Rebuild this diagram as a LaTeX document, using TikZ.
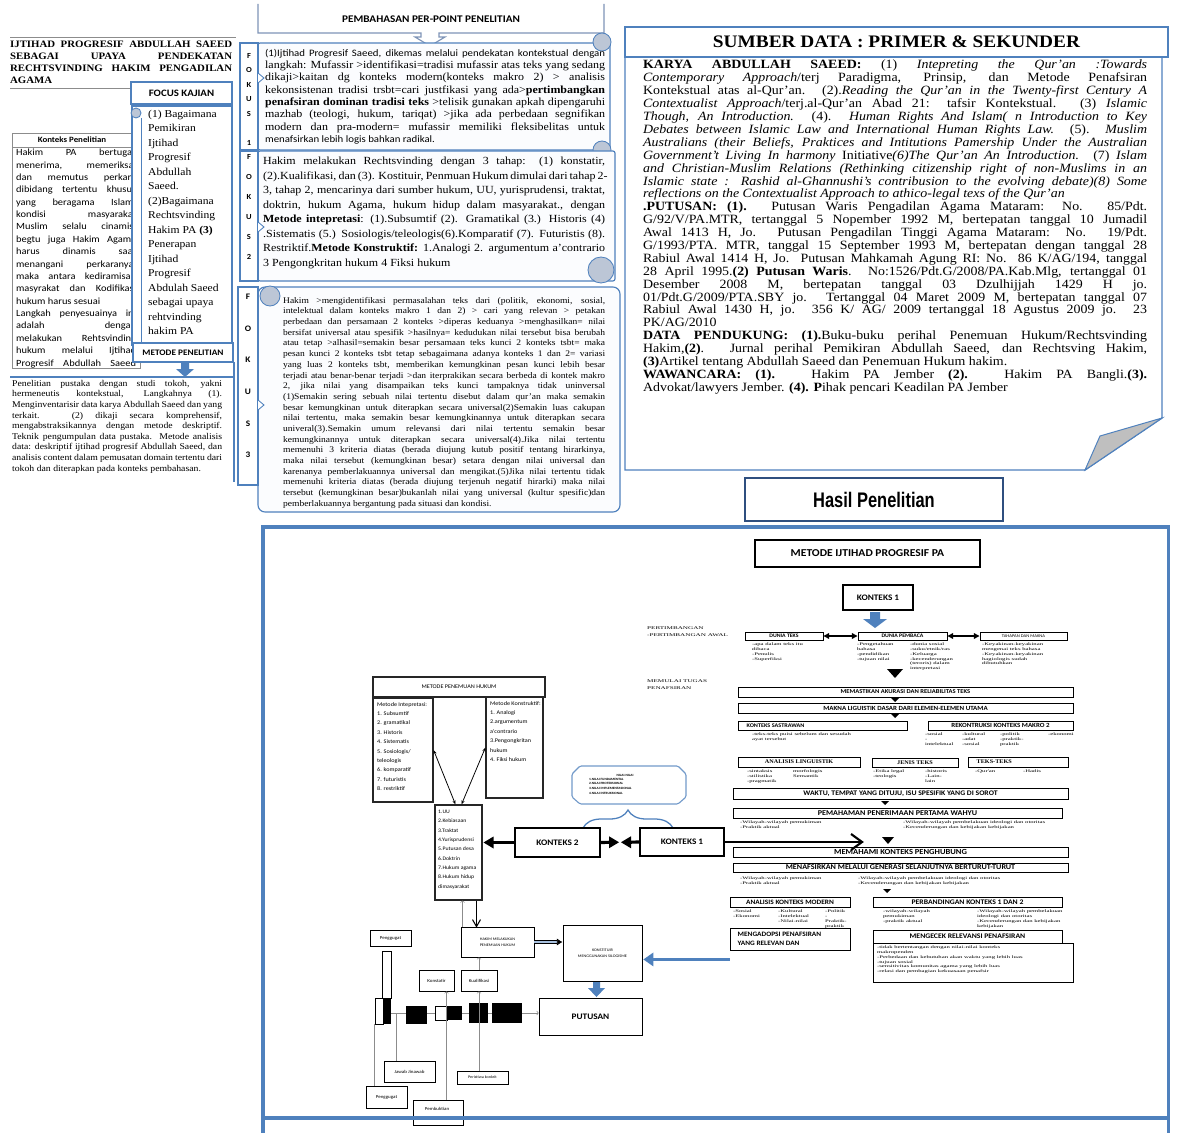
\documentclass[tikz,border=0pt]{standalone}
\usepackage{fontspec}
\setmainfont{Liberation Serif}[FakeStretch=1.1]
\newfontfamily\calib{Carlito}[FakeStretch=1.1]
\newfontfamily\narrowf{Liberation Sans}[FakeStretch=0.78]
\newfontfamily\widef{Liberation Serif}[FakeStretch=1.7]
\usetikzlibrary{arrows.meta,positioning,calc,decorations.pathreplacing}
\definecolor{sblue}{HTML}{4F81BD}
\definecolor{sdark}{HTML}{2F4F7F}
\definecolor{scurl}{HTML}{BCC6D6}
\definecolor{sfold}{HTML}{BFBFBF}
\definecolor{spaper}{HTML}{FBFCFE}
\definecolor{sgray}{HTML}{8C8C8C}
\definecolor{scall}{HTML}{7F95B8}
\newcommand\fs[2]{\fontsize{#1}{#2}\selectfont}
\newcommand\fl[1]{\hbox to\hsize{#1}}
\newcommand\el[1]{\hbox to\hsize{#1\hfil}}
% kotak dari dua titik piksel
\newcommand\bxat[6]{\node[#1,minimum width={(#4-#2)*0.05cm},minimum height={(#5-#3)*0.05cm}] (#6) at ({(#2+#4)/2},{(#3+#5)/2})}
\hbadness=10000 \hfuzz=100pt
\tikzset{
  gline/.style={draw=sgray,line width=0.8pt},
  blbox/.style={draw=sblue,line width=1.6pt,fill=white,inner sep=0pt},
  scroll/.style={draw=sblue,line width=1.6pt,fill=spaper,rounded corners=3pt},
  curl/.style={draw=sblue,line width=1.2pt,fill=scurl},
  txt/.style={anchor=north west,inner sep=0pt},
  lett/.style={anchor=north,inner sep=0pt,align=center},
  bx/.style={draw=black,line width=1.3pt,inner sep=0pt,fill=white,font=\calib\bfseries\fs{9}{10}},
  sbx/.style={draw=black,line width=1.3pt,inner sep=0pt,fill=white,font=\bfseries\fs{8}{9}},
  hbx/.style={draw=black,line width=3pt,inner sep=0pt,fill=white},
  bx2/.style={draw=black!85,line width=1.6pt,inner sep=0pt,fill=white},
  tbx/.style={draw=black,line width=1.2pt,inner sep=0pt,fill=white,font=\calib\fs{6.5}{7}},
  tn/.style={anchor=north west,inner sep=0pt,align=left,font=\widef\fs{5.6}{6.7}},
  lab/.style={anchor=north west,inner sep=0pt,align=left,font=\widef\fs{6}{10}},
  tarr/.style={-{Triangle[length=8pt,width=8pt]},line width=1.8pt},
  shaft/.style={draw=black,line width=4.5pt},
  garr/.style={-{To[length=3pt]},draw=sgray,line width=0.7pt},
  barr/.style={{Stealth[length=6pt]}-{Stealth[length=6pt]},line width=1.1pt},
  bsq/.style={fill=black,inner sep=0pt},
  wsq/.style={draw=black,fill=white,line width=1pt,inner sep=0pt},
}
\begin{document}
\begin{tikzpicture}[x=0.05cm,y=-0.05cm]
\useasboundingbox (0,0) rectangle (1178,1133);
\fill[white] (0,0) rectangle (1178,1133);

% judul
\draw[gline] (10,37) -- (236,37);
\node[txt,font=\bfseries\fs{14}{17.1}] (judul) at (10,41) {\vbox{\hsize=11.1cm
\fl{IJTIHAD PROGRESIF ABDULLAH SAEED}
\fl{SEBAGAI UPAYA PENDEKATAN}
\fl{RECHTSVINDING HAKIM PENGADILAN}
\el{AGAMA}}};
\draw[gline] (10,88) -- (132,88);

% konteks penelitian
\draw[gline,fill=white] (12,133) rectangle (140,368);
\node[font=\calib\bfseries\fs{11.5}{13}] (kph) at (72,140) {Konteks Penelitian};
\draw[gline] (12,147) -- (140,147);
\node[txt,font=\calib\fs{13.5}{17.6}] (kp) at (16,149) {\vbox{\hsize=6cm
\fl{Hakim PA bertugas}
\fl{menerima, memeriksa,}
\fl{dan memutus perkara}
\fl{dibidang tertentu khusus}
\fl{yang beragama Islam,}
\fl{kondisi masyarakat}
\fl{Muslim selalu cinamis,}
\fl{begtu juga Hakim Agama}
\fl{harus dinamis saat}
\fl{menangani perkaranya,}
\fl{maka antara kediramisan}
\fl{masyrakat dan Kodifikasi}
\el{hukum harus sesuai}
\fl{Langkah penyesuainya ini}
\fl{adalah dengan}
\fl{melakukan Rehtsvinding}
\fl{hukum melalui Ijtihad}
\fl{Progresif Abdullah Saeed}}};

% focus kajian
\draw[blbox] (132,106) rectangle (232,345);
\draw[sblue,line width=1.2pt] (141,118) -- (141,345);
\draw[curl] (136,113) circle[radius=0.25cm];
\bxat{blbox,font=\calib\bfseries\fs{14}{16}}{131}{82}{232}{104}{fk} {FOCUS KAJIAN};
\node[txt,align=left,font=\fs{15}{20.6}] (fkl) at (148,110) {(1) Bagaimana\\Pemikiran\\Ijtihad\\Progresif\\Abdullah\\Saeed.\\(2)Bagaimana\\Rechtsvinding\\Hakim PA \textbf{(3)}\\Penerapan\\Ijtihad\\Progresif\\Abdulah Saeed\\sebagai upaya\\rehtvinding\\hakim PA};

% metode penelitian
\bxat{blbox,font=\calib\bfseries\fs{12}{13}}{133}{343}{233}{362}{mp} {METODE PENELITIAN};
\fill[sblue] (181,363) -- (189,363) -- (189,369) -- (194,369) -- (185,377) -- (176,369) -- (181,369) -- cycle;
\draw[sblue,line width=2.2pt] (10,377) -- (234,377);
\draw[sblue,line width=1.6pt] (234,362) -- (234,482);
\node[txt,font=\fs{12.6}{15.1}] (pp) at (12,380) {\vbox{\hsize=10.5cm
\fl{Penelitian pustaka dengan studi tokoh, yakni}
\fl{hermeneutis kontekstual, Langkahnya (1).}
\fl{Menginventarisir data karya Abdullah Saeed dan yang}
\fl{terkait. (2) dikaji secara komprehensif,}
\fl{mengabstraksikannya dengan metode deskriptif.}
\fl{Teknik pengumpulan data pustaka. Metode analisis}
\fl{data: deskriptif ijtihad progresif Abdullah Saeed, dan}
\fl{analisis content dalam pemusatan domain tertentu dari}
\el{tokoh dan diterapkan pada konteks pembahasan.}}};

% pembahasan
\draw[draw=scall,line width=1.6pt] (258,4) -- (258,33) -- (421,33) -- (421,37) -- (415,37) -- (430,46) -- (445,37) -- (439,37) -- (439,33) -- (604,33) -- (604,4);
\node[font=\calib\bfseries\fs{14.5}{16}] (pbh) at (431,19) {PEMBAHASAN PER-POINT PENELITIAN};

% fokus 1
\draw[scroll] (258,43) rectangle (610,150);
\draw[curl] (602,42) circle[radius=0.45cm];
\draw[curl] (602,150) circle[radius=0.45cm];
\draw[blbox] (240,43) rectangle (258,150);
\draw[blbox,line width=1.2pt] (258,73) -- (264,78) -- (258,83);
\node[lett,font=\calib\bfseries\fs{11}{20.6}] (f1l) at (249,53) {F\\O\\K\\U\\S\\[20.6pt]1};
\node[txt,font=\fs{15.5}{17.5}] (f1) at (265,49) {\vbox{\hsize=17cm
\fl{{\calib\fs{14}{17.5}(1)Ijtihad Progresif Saeed, dikemas  melalui pendekatan kontekstual dengan}}
\fl{langkah: Mufassir >identifikasi=tradisi mufassir atas teks yang sedang}
\fl{dikaji>kaitan dg konteks modern(konteks makro 2) > analisis}
\fl{kekonsistenan tradisi trsbt=cari justfikasi yang ada>\textbf{pertimbangkan}}
\fl{\textbf{penafsiran dominan tradisi teks} >telisik gunakan apkah dipengaruhi}
\fl{mazhab (teologi, hukum, tariqat) >jika ada perbedaan segnifikan}
\fl{modern dan pra-modern= mufassir memiliki fleksibelitas untuk}
\el{{\calib\fs{14}{17.5}menafsirkan lebih logis bahkan radikal.}}}};

% fokus 2
\draw[scroll] (258,151) rectangle (615,281);
\draw[curl] (601,270) circle[radius=0.65cm];
\draw[blbox] (240,151) rectangle (258,281);
\draw[blbox,line width=1.2pt] (258,222) -- (264,227) -- (258,232);
\node[lett,font=\calib\bfseries\fs{11}{28.5}] (f2l) at (249,154) {F\\O\\K\\U\\S\\2};
\node[txt,font=\fs{15.5}{20.6}] (f2) at (263,157) {\vbox{\hsize=17.1cm
\fl{Hakim melakukan Rechtsvinding dengan 3 tahap: (1) konstatir,}
\fl{(2).Kualifikasi, dan (3). Kostituir, Penmuan Hukum dimulai dari tahap 2-}
\fl{3, tahap 2, mencarinya dari sumber hukum, UU, yurisprudensi, traktat,}
\fl{doktrin, hukum Agama, hukum hidup dalam masyarakat., dengan}
\fl{\textbf{Metode intepretasi}: (1).Subsumtif (2). Gramatikal (3.) Historis (4)}
\fl{.Sistematis (5.) Sosiologis/teleologis(6).Komparatif (7). Futuristis (8).}
\fl{Restriktif.\textbf{Metode Konstruktif:} 1.Analogi 2. argumentum a'contrario}
\el{3 Pengongkritan hukum 4 Fiksi hukum}}};

% fokus 3
\draw[scroll,rounded corners=10pt] (258,287) rectangle (620,512);
\draw[curl] (270,296) circle[radius=0.5cm];
\draw[blbox] (238,287) rectangle (258,485);
\draw[blbox,line width=1.2pt] (258,400) -- (264,405) -- (258,410);
\node[lett,font=\calib\bfseries\fs{12}{45}] (f3l) at (248,294) {F\\O\\K\\U\\S\\3};
\node[txt,font=\fs{12.3}{15.2}] (f3) at (283,297) {\vbox{\hsize=16.1cm
\fl{Hakim >mengidentifikasi permasalahan teks dari (politik, ekonomi, sosial,}
\fl{intelektual dalam konteks makro 1 dan 2) > cari yang relevan > petakan}
\fl{perbedaan dan persamaan 2 konteks >diperas keduanya >menghasilkan= nilai}
\fl{bersifat universal atau spesifik >hasilnya= kedudukan nilai tersebut bisa berubah}
\fl{atau tetap >alhasil=semakin besar persamaan teks kunci 2 konteks tsbt= maka}
\fl{pesan kunci 2 konteks tsbt tetap sebagaimana adanya konteks 1 dan 2= variasi}
\fl{yang luas 2 konteks tsbt, memberikan kemungkinan pesan kunci lebih besar}
\fl{terjadi atau benar-benar terjadi >dan iterprakikan secara berbeda di kontek makro}
\fl{2, jika nilai yang disampaikan teks kunci tampaknya tidak uninversal}
\fl{(1)Semakin sering sebuah nilai tertentu disebut dalam qur'an maka semakin}
\fl{besar kemungkinan untuk diterapkan secara universal(2)Semakin luas cakupan}
\fl{nilai tertentu, maka semakin besar kemungkinannya untuk diterapkan secara}
\fl{univeral(3).Semakin umum relevansi dari nilai tertentu semakin besar}
\fl{kemungkinannya untuk diterapkan secara universal(4).Jika nilai tertentu}
\fl{memenuhi 3 kriteria diatas (berada diujung kutub positif tentang hirarkinya,}
\fl{maka nilai tersebut (kemungkinan besar) setara dengan nilai universal dan}
\fl{karenanya pemberlakuannya universal dan mengikat.(5)Jika nilai tertentu tidak}
\fl{memenuhi kriteria diatas (berada diujung terjenuh negatif hirarki) maka nilai}
\fl{tersebut (kemungkinan besar)bukanlah nilai yang universal (kultur spesific)dan}
\el{pemberlakuannya bergantung pada situasi dan kondisi.}}};

% sumber data
\draw[blbox,line width=2pt] (625,57) -- (1162,57) -- (1162,418) -- (1085,470) -- (625,470) -- cycle;
\draw[draw=sblue,line width=1.4pt,fill=sfold] (1162,418) -- (1100,436) -- (1085,470) -- cycle;
\bxat{blbox,line width=2pt,font=\bfseries\fs{25}{27}}{625}{27}{1168}{57}{sdh} {SUMBER DATA : PRIMER \& SEKUNDER};
\node[txt,font=\fs{18}{18.35}] (sd) at (643,60) {\vbox{\hsize=25.2cm
\fl{\textbf{KARYA ABDULLAH SAEED:} (1) \textit{Intepreting the Qur'an :Towards}}
\fl{\textit{Contemporary Approach}/terj Paradigma, Prinsip, dan Metode Penafsiran}
\fl{Kontekstual atas al-Qur'an. (2).\textit{Reading the Qur'an in the Twenty-first Century A}}
\fl{\textit{Contextualist Approach}/terj.al-Qur'an Abad 21: tafsir Kontekstual. (3) \textit{Islamic}}
\fl{\textit{Though, An Introduction.} (4). \textit{Human Rights And Islam( n Introduction to Key}}
\fl{\textit{Debates between Islamic Law and International Human Rights Law.} (5). \textit{Muslim}}
\fl{\textit{Australians (their Beliefs, Praktices and Intitutions Pamership Under the Australian}}
\fl{\textit{Government't Living In harmony} Initiative\textit{(6)The Qur'an An Introduction.} (7) \textit{Islam}}
\fl{\textit{and Christian-Muslim Relations (Rethinking citizenship right of non-Muslims in an}}
\fl{\textit{Islamic state : Rashid al-Ghannushi's contribusion to the evolving debate)(8) Some}}
\el{\textit{reflections on the Contextualist Approach to athico-legal texs of the Qur'an}}
\fl{\textbf{.PUTUSAN: (1).} Putusan Waris Pengadilan Agama Mataram: No. 85/Pdt.}
\fl{G/92/V/PA.MTR, tertanggal 5 Nopember 1992 M, bertepatan tanggal 10 Jumadil}
\fl{Awal 1413 H, Jo. Putusan Pengadilan Tinggi Agama Mataram: No. 19/Pdt.}
\fl{G/1993/PTA. MTR, tanggal 15 September 1993 M, bertepatan dengan tanggal 28}
\fl{Rabiul Awal 1414 H, Jo. Putusan Mahkamah Agung RI: No. 86 K/AG/194, tanggal}
\fl{28 April 1995.\textbf{(2) Putusan Waris}. No:1526/Pdt.G/2008/PA.Kab.Mlg, tertanggal 01}
\fl{Desember 2008 M, bertepatan tanggal 03 Dzulhijjah 1429 H jo.}
\fl{01/Pdt.G/2009/PTA.SBY jo. Tertanggal 04 Maret 2009 M, bertepatan tanggal 07}
\fl{Rabiul Awal 1430 H, jo. 356 K/ AG/ 2009 tertanggal 18 Agustus 2009 jo. 23}
\el{PK/AG/2010}
\fl{\textbf{DATA PENDUKUNG: (1).}Buku-buku perihal Penemuan Hukum/Rechtsvinding}
\fl{Hakim,\textbf{(2)}. Jurnal perihal Pemikiran Abdullah Saeed, dan Rechtsving Hakim,}
\el{\textbf{(3)}Artikel tentang Abdullah Saeed dan Penemuan Hukum hakim.}
\fl{\textbf{WAWANCARA: (1).} Hakim PA Jember \textbf{(2).} Hakim PA Bangli.\textbf{(3).}}
\el{Advokat/lawyers Jember. \textbf{(4). P}ihak pencari Keadilan PA Jember}}};

% hasil penelitian
\draw[sblue,line width=4.3pt] (263,1133) -- (263,527) -- (1168,527) -- (1168,1133);
\bxat{draw=sdark,line width=2.5pt,fill=white,inner sep=0pt,font=\narrowf\bfseries\fs{30}{32}}{745}{478}{1003}{521}{hasil} {Hasil Penelitian};

% metode ijtihad progresif
\bxat{hbx,font=\calib\bfseries\fs{15}{16}}{755}{540}{980}{567}{mip} {METODE IJTIHAD PROGRESIF PA};
\bxat{hbx,font=\calib\bfseries\fs{12}{13}}{843}{585}{913}{610}{k1} {KONTEKS 1};
\fill[sblue] (870,612) -- (880,612) -- (880,619) -- (887,619) -- (875,628) -- (863,619) -- (870,619) -- cycle;
\node[lab] (lpert) at (647,627) {PERTIMBANGAN\\-PERTIMBANGAN AWAL};
\bxat{bx,font=\calib\bfseries\fs{7.5}{8}}{745}{632}{823}{640}{dteks} {DUNIA TEKS};
\bxat{bx,font=\calib\bfseries\fs{7.5}{8}}{858}{632}{947}{640}{dpemb} {DUNIA PEMBACA};
\bxat{bx,font=\calib\fs{6}{7}}{980}{632}{1067}{640}{dmakna} {TAHAPAN DAN MAKNA};
\foreach \a/\b in {dteks/dpemb,dpemb/dmakna}{
  \coordinate (m) at ($(\a.east)!0.5!(\b.west)$);
  \draw[tarr] (m) -- (\a.east);
  \draw[tarr] (m) -- (\b.west);
}
\node[tn] (t1) at (752,643) {-apa dalam teks itu\\ dibaca\\-Penulis\\-Superfiksi};
\node[tn] (t2) at (857,643) {-Pengetahuan\\ bahasa\\-pendidikan\\-tujuan nilai};
\node[tn] (t3) at (910,643) {-dunia sosial\\-suku/etnik/ras\\-Keluarga\\-kecenderungan\\ (teroris) dalam\\ interpretasi};
\node[tn] (t4) at (982,643) {-Keyakinan-keyakinan\\ mengenai teks bahasa\\-Keyakinan-keyakinan\\ hagiologis sudah\\ dibutuhkan};
\fill (887,669) -- (903,669) -- (895,678) -- cycle;

\node[lab] (lmul) at (647,680) {MEMULAI TUGAS\\ PENAFSIRAN};
\bxat{bx,font=\calib\bfseries\fs{8.5}{9}}{738}{687}{1073}{697}{mak} {MEMASTIKAN AKURASI DAN RELIABILITAS TEKS};
\fill (891,698) -- (899,698) -- (895,702) -- cycle;
\bxat{bx}{738}{703}{1073}{713}{mld} {MAKNA LIGUISTIK DASAR DARI ELEMEN-ELEMEN UTAMA};
\fill (891,714) -- (899,714) -- (895,718) -- cycle;
\bxat{bx}{738}{721}{907}{730}{ksas} {};
\node[font=\calib\bfseries\fs{8}{9},inner sep=0pt,right=0.45cm of ksas.west] (ksast) {KONTEKS SASTRAWAN};
\bxat{bx}{928}{721}{1073}{730}{rek} {REKONTRUKSI KONTEKS MAKRO 2};
\node[tn] (t5) at (752,733) {-teks-teks puisi sebelum dan sesudah\\ ayat tersebut};
\node[tn] (t6) at (925,733) {-sosial\\-\\ intelektual};
\node[tn] (t7) at (962,733) {-kultural\\-adat\\-sosial};
\node[tn] (t8) at (1000,733) {-politik\\-praktik-\\ praktik};
\node[tn] (t9) at (1048,733) {-ekonomi};

\bxat{sbx}{738}{757}{860}{767}{alin} {ANALISIS LINGUISTIK};
\bxat{sbx}{872}{758}{958}{767}{jteks} {JENIS TEKS};
\bxat{sbx}{968}{757}{1068}{767}{tteks} {};
\node[font=\bfseries\fs{8}{9},inner sep=0pt,right=0.45cm of tteks.west] (ttekst) {TEKS-TEKS};
\node[tn] (t10) at (747,770) {-sintaksis\\-stilistika\\-pragmatik};
\node[tn] (t11) at (793,770) {morfologis\\Semantik};
\node[tn] (t12) at (873,770) {-Etika legal\\ -teologis};
\node[tn] (t13) at (925,770) {-historis\\-Lain-\\ lain};
\node[tn] (t14) at (975,770) {-Qur'an};
\node[tn] (t15) at (1023,770) {-Hadis};

\bxat{bx,font=\calib\bfseries\fs{10}{11}}{733}{788}{1068}{799}{waktu} {WAKTU, TEMPAT YANG DITUJU, ISU SPESIFIK YANG DI SOROT};
\fill (881,801) -- (889,801) -- (885,805) -- cycle;
\bxat{bx,font=\calib\bfseries\fs{10.5}{11}}{733}{808}{1062}{818}{pema} {PEMAHAMAN PENERIMAAN PERTAMA WAHYU};
\node[tn] (t16) at (740,821) {-Wilayah-wilayah pemukiman\\-Praktik aktual};
\node[tn] (t17) at (903,821) {-Wilayah-wilayah pembelakuan ideologi dan otoritas\\-Kecenderungan dan kebijakan kebijakan};
\fill (882,837) -- (894,837) -- (888,844) -- cycle;
\bxat{bx,font=\calib\bfseries\fs{11}{11}}{733}{847}{1068}{857}{mkp} {MEMAHAMI KONTEKS PENGHUBUNG};
\bxat{bx,font=\calib\bfseries\fs{10.5}{11}}{733}{863}{1068}{872}{menaf} {MENAFSIRKAN MELALUI GENERASI SELANJUTNYA BERTURUT-TURUT};
\node[tn] (t18) at (740,877) {-Wilayah-wilayah pemukiman\\-Praktik aktual};
\node[tn] (t19) at (858,877) {-Wilayah-wilayah pembelakuan ideologi dan otoritas\\-Kecenderungan dan kebijakan kebijakan};
\fill (883,889) -- (891,889) -- (887,893) -- cycle;
\bxat{bx,font=\calib\bfseries\fs{9.5}{10}}{730}{897}{850}{907}{akm} {ANALISIS KONTEKS MODERN};
\bxat{bx,font=\calib\bfseries\fs{10}{10}}{873}{897}{1062}{907}{pkt} {PERBANDINGAN KONTEKS 1 DAN 2};
\node[tn] (t20) at (733,910) {-Sosial\\-Ekonomi};
\node[tn] (t21) at (778,910) {-Kultural\\-Intelektual\\-Nilai-nilai};
\node[tn] (t22) at (825,910) {-Politik\\-\\ Praktik-\\ praktik};
\node[tn] (t23) at (883,910) {-wilayah-wilayah\\ pemukiman\\-praktik aktual};
\node[tn] (t24) at (977,910) {-Wilayah-wilayah pembelakuan\\ ideologi dan otoritas\\-Kecenderungan dan kebijakan\\ kebijakan};
\bxat{bx}{730}{928}{850}{950}{madop} {};
\node[font=\calib\bfseries\fs{9.5}{13},align=left,inner sep=0pt,right=0.4cm of madop.west] (madopt) {MENGADOPSI PENAFSIRAN\\YANG RELEVAN DAN};
\bxat{bx,font=\calib\bfseries\fs{10}{10}}{873}{930}{1062}{943}{mcek} {MENGECEK RELEVANSI PENAFSIRAN};
\bxat{draw=black,line width=1pt,inner sep=0pt}{873}{943}{1073}{982}{mcekb} {};
\node[tn] (t25) at (877,946) {-tidak bertentangan dengan nilai-nilai konteks\\ makropenden\\-Perbedaan dan kebutuhan akan waktu yang lebih luas\\-tujuan sosial\\-sensitivitas komunitas agama yang lebih luas\\-relasi dan pembagian kekuasaan penafsir};

% metode penemuan hukum
\bxat{bx2,font=\calib\fs{8}{9}}{373}{677}{545}{697}{mph} {METODE PENEMUAN HUKUM};
\bxat{bx2}{373}{698}{433}{802}{mint} {};
\node[tn,font=\calib\fs{8}{13.4}] (mintx) at (377,702) {Metode Intepretasi:\\1. Subsumtif\\2. gramatikal\\3. Historis\\4. Sistematis\\5. Sosiologis/\\teleologis\\6. komparatif\\7. futuristis\\8. restriktif};
\bxat{bx2}{486}{697}{543}{798}{mkon} {};
\node[tn,font=\calib\fs{8}{13.4}] (mkonx) at (490,701) {Metode Konstruktif:\\1. Analogi\\2.argumentum\\a'contrario\\3.Pengongkritan\\hukum\\4. Fiksi hukum};
\bxat{bx2}{435}{805}{482}{900}{sh} {};
\node[tn,font=\calib\fs{7.5}{13.3}] (shx) at (438,810) {1.UU\\2.Kebiasaan\\3.Traktat\\4.Yurisprudensi\\5.Putusan desa\\6.Doktrin\\7.Hukum agama\\8.Hukum hidup\\dimasyarakat};
\draw[barr] (mint.east) -- ($(sh.north)+(-3,0)$);
\draw[barr] (mkon.west) -- ($(sh.north)+(3,0)$);

% konteks 2 dan nilai
\draw[draw=sblue!80,line width=1.6pt,fill=white,rounded corners=2pt] (580,766) -- (678,766) -- (686,774) -- (686,797) -- (678,804) -- (580,804) -- (572,797) -- (572,774) -- cycle;
\node[font=\calib\bfseries\fs{4.6}{6},inner sep=0pt] (nilaih) at (625,775) {NILAI-NILAI};
\node[tn,font=\calib\bfseries\fs{4.6}{6.7}] (nilai) at (589,778) {1.NILAI FUNDAMENTAL\\2.NILAI PROTEKSIONAL\\3.NILAI IMPLEMENTASIONAL\\4.NILAI INTRUKSIONAL};
\draw[sblue,line width=1.8pt,decorate,decoration={brace,amplitude=0.9cm}] (583,828) -- (673,828);
\bxat{hbx,font=\calib\bfseries\fs{12}{13}}{515}{828}{600}{857}{k2} {KONTEKS 2};
\bxat{hbx,font=\calib\bfseries\fs{12}{13}}{640}{828}{724}{856}{k1b} {KONTEKS 1};
% panah tebal
\coordinate (ka) at (k2.west -| sh.east);
\draw[shaft] (k2.west) -- ($(ka)+(8,0)$);
\fill ($(ka)+(1,0)$) -- ($(ka)+(11,-6)$) -- ($(ka)+(11,6)$) -- cycle;
\coordinate (kk) at ($(k2.east)!0.5!(k1b.west)$);
\draw[shaft] (k2.east) -- ($(kk)+(-8,0)$);
\fill ($(kk)+(-1,0)$) -- ($(kk)+(-11,-6)$) -- ($(kk)+(-11,6)$) -- cycle;
\draw[shaft] (k1b.west) -- ($(kk)+(8,0)$);
\fill ($(kk)+(1,0)$) -- ($(kk)+(11,-6)$) -- ($(kk)+(11,6)$) -- cycle;
\coordinate (kend) at ($(k1b.east)+(137,0)$);
\draw[line width=3.2pt] (k1b.east) -- (kend);
\draw[line width=3pt] ($(kend)+(-11,-8)$) -- (kend) -- ($(kend)+(-11,8)$);

% hakim, konstituir, putusan
\bxat{tbx,align=center,font=\calib\fs{5.5}{9}}{461}{927}{534}{957}{hmp} {HAKIM MELAKUKAN\\PENEMUAN HUKUM};
\bxat{tbx,align=center,font=\calib\fs{5.5}{9}}{563}{925}{642}{981}{kons} {KONSTITUIR\\MENGGUNAKAN SILOGISME};
\bxat{tbx,font=\calib\bfseries\fs{12}{13}}{539}{998}{642}{1035}{put} {PUTUSAN};
\coordinate (sx) at ($(sh.south)+(18,0)$);
\coordinate (sy) at (sx |- hmp.north);
\draw[line width=1.5pt] (sx) -- (sy);
\draw[line width=1.5pt] ($(sy)+(-4,-7)$) -- (sy) -- ($(sy)+(4,-7)$);
\coordinate (hx) at ($(hmp.north west)+(2,0)$);
\draw[garr] (hx) -- (hx |- sh.south);
\draw[draw=black,double=sblue!50,double distance=2.6pt,line width=1pt,-{Latex[length=8pt,width=10pt]}] (hmp.east) -- (hmp.east -| kons.west);
\coordinate (bsrc) at ($(madop.south west)+(0,9)$);
\coordinate (kb) at (bsrc -| kons.east);
\draw[sblue,line width=4pt] (bsrc) -- ($(kb)+(8,0)$);
\fill[sblue] ($(kb)+(1,0)$) -- ($(kb)+(11,-7)$) -- ($(kb)+(11,7)$) -- cycle;
\fill[sblue] (593,982) -- (600,982) -- (600,988) -- (605,988) -- (596.5,997) -- (588,988) -- (593,988) -- cycle;

% alur rechtsvinding
\bxat{tbx}{370}{930}{411}{946}{pg1} {Penggugat};
\bxat{tbx}{419}{970}{454}{991}{konst} {Konstatir};
\bxat{tbx}{461}{970}{497}{991}{kual} {Kualifikasi};
\bxat{wsq,line width=1.4pt}{382}{951}{391}{998}{bar} {};
\bxat{wsq}{375}{998}{383}{1024}{bw} {};
\bxat{bsq}{383}{998}{391}{1024}{bb} {};
\coordinate (tl) at ($(bb.east)+(0,2)$);
\draw[garr,line width=0.9pt] (tl) -- (tl -| put.west);
\bxat{bsq}{406}{1006}{427}{1024}{s1} {};
\bxat{wsq}{435}{1006}{447}{1020}{s2} {};
\bxat{bsq}{447}{1006}{462}{1020}{s3} {};
\bxat{bsq}{469}{1003}{488}{1023}{s4} {};
\bxat{bsq}{492}{1003}{522}{1023}{s5} {};
\bxat{tbx}{384}{1061}{435}{1082}{jj} {Jawab Jinawab};
\bxat{tbx,font=\calib\fs{5.5}{6}}{457}{1071}{508}{1084}{pk} {Peristiwa konkrit};
\bxat{tbx}{366}{1086}{407}{1108}{pg2} {Penggugat};
\bxat{tbx}{413}{1100}{463}{1125}{pemb} {};
\node[font=\calib\fs{6.5}{7},inner sep=0pt] (pembt) at (437,1109) {Pembuktian};
\coordinate (jx) at ($(jj.north west)+(13,0)$);
\draw[gline] (jx) -- (jx |- tl);
\coordinate (px) at ($(pg2.north west)+(9,0)$);
\draw[gline] (px) -- (px |- bw.south);
\coordinate (kx) at ($(konst.south)+(10,0)$);
\draw[garr] (kx |- pemb.north) -- (kx);
\draw[garr] (kual.south |- pk.north) -- (kual.south);
\draw[garr] (kual.north) -- (kual.north |- hmp.south);

% bingkai bawah
\draw[sblue,line width=4.3pt] (263,1118) -- (1168,1118);
\end{tikzpicture}
\end{document}
